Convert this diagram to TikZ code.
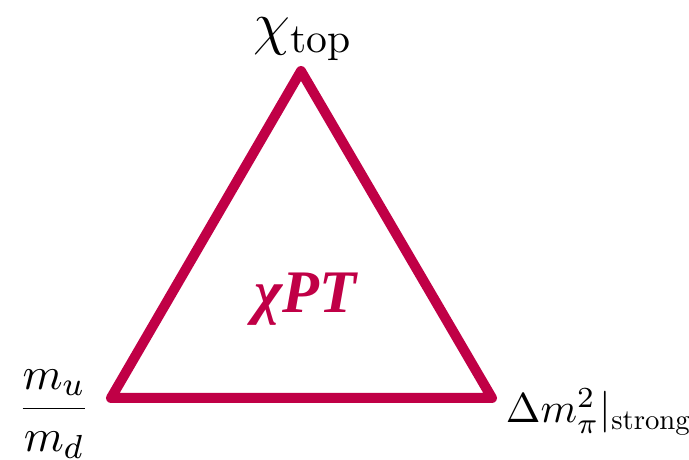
\documentclass[tikz,border=0pt]{standalone}
\usepackage{amsmath}
\usepackage{graphicx}
\usepackage{fontspec}
\newfontfamily\tmsfont{Liberation Serif}
\definecolor{crim}{RGB}{192,0,70}
\begin{document}
\begin{tikzpicture}[x=0.24pt,y=-0.24pt,
  tri/.style={draw=crim,line width=2.4pt,line join=round},
  lbl/.style={inner sep=0pt,text=black}]
\useasboundingbox (0,0) rectangle (689,460);
\coordinate (T) at (301,71);
\coordinate (L) at (111,398);
\coordinate (R) at (492,398);
\draw[tri] (T) -- (L) -- (R) -- cycle;
\node[lbl,text=crim,anchor=base,font=\tmsfont\bfseries\itshape\fontsize{14.5}{16}\selectfont] (c) at (305,313) {χPT};
\node[lbl,anchor=base,font=\Large] (top) at (303,43) {$\chi_{\text{top}}$};
\node[lbl,font=\fontsize{11}{13}\selectfont] (mr) at (54,414) {$\dfrac{m_u}{m_d}$};
\node[lbl,anchor=base west,font=\fontsize{9.6}{11}\selectfont] (dm) at (505,423) {$\Delta m_\pi^2|_{\mbox{\fontsize{10}{11}\selectfont\scalebox{0.69}{strong}}}$};
\end{tikzpicture}
\end{document}
